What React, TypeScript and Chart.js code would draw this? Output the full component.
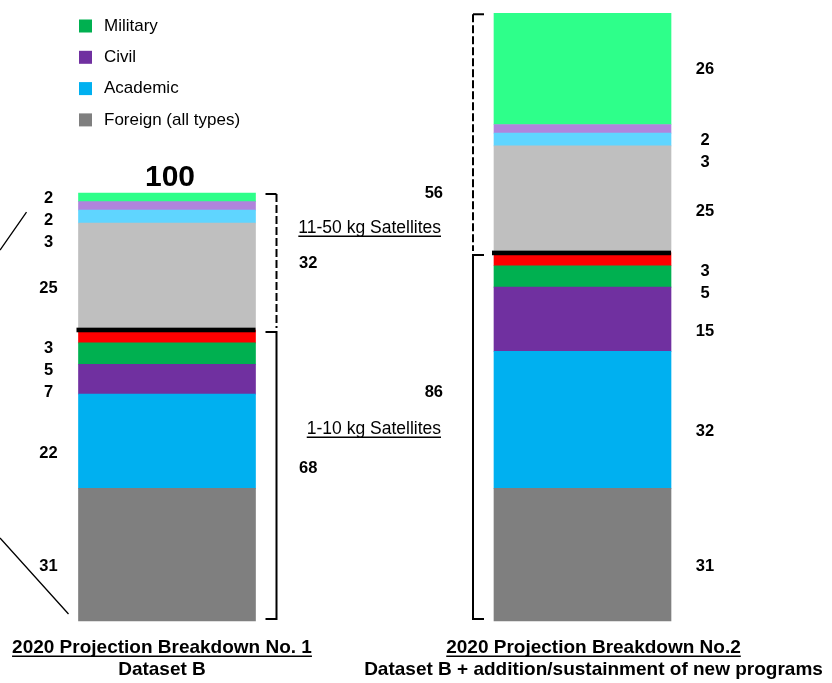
import React, { useEffect, useRef } from "react";
import { Chart, registerables } from "chart.js";

Chart.register(...registerables);

// ---------- data ----------
const categories = ["2020 Projection Breakdown No. 1", "2020 Projection Breakdown No.2"];
const subtitles = ["Dataset B", "Dataset B + addition/sustainment of new programs"];

// 1-10 kg satellites (lower stack, bottom-up)
const foreignSmall = [31, 31];
const academicSmall = [22, 32];
const civilSmall = [7, 15];
const militarySmall = [5, 5];
const otherSmall = [3, 3];
// 11-50 kg satellites (upper stack, bottom-up)
const foreignLarge = [25, 25];
const academicLarge = [3, 3];
const civilLarge = [2, 2];
const militaryLarge = [2, 26];

const legendLabels = ["Military", "Civil", "Academic", "Foreign (all types)"];
const groupLabels = ["1-10 kg Satellites", "11-50 kg Satellites"];

// ---------- styles ----------
const FONT = '"Liberation Sans", Arial, Helvetica, sans-serif';
const COLORS = {
  foreign: "#7F7F7F",
  academic: "#00B0F0",
  civil: "#7030A0",
  military: "#00B050",
  other: "#FF0000",
  foreignL: "#BFBFBF",
  academicL: "#5FD5FF",
  civilL: "#B084DC",
  militaryL: "#2EFF8A",
};
const BAR_W = 177;

const lowerSets = [foreignSmall, academicSmall, civilSmall, militarySmall, otherSmall];
const upperSets = [foreignLarge, academicLarge, civilLarge, militaryLarge];

function txt(
  ctx: CanvasRenderingContext2D,
  text: string,
  x: number,
  y: number,
  size: number,
  bold = false,
  align: CanvasTextAlign = "left",
  underline = false
) {
  ctx.save();
  ctx.font = `${bold ? "bold " : ""}${size}px ${FONT}`;
  ctx.fillStyle = "#000";
  ctx.textAlign = align;
  ctx.textBaseline = "middle";
  ctx.fillText(text, x, y);
  if (underline) {
    const w = ctx.measureText(text).width;
    const x0 = align === "center" ? x - w / 2 : align === "right" ? x - w : x;
    ctx.strokeStyle = "#000";
    ctx.lineWidth = 1.5;
    ctx.beginPath();
    ctx.moveTo(x0, y + size * 0.44);
    ctx.lineTo(x0 + w, y + size * 0.44);
    ctx.stroke();
  }
  ctx.restore();
}

const annotPlugin = {
  id: "annot",
  afterDatasetsDraw(chart: any) {
    const ctx: CanvasRenderingContext2D = chart.ctx;
    const xs = chart.scales.x;
    const ys = chart.scales.y;
    const half = BAR_W / 2;
    const datasets = chart.data.datasets;

    // legend
    const bar0Left = xs.getPixelForValue(0) - half;
    [3, 2, 1, 0].forEach((d, k) => {
      const yc = 26 + k * 31.3;
      ctx.fillStyle = datasets[d].backgroundColor;
      ctx.fillRect(bar0Left + 0.5, yc - 6.5, 13, 13);
      txt(ctx, legendLabels[k], bar0Left + 25.5, yc, 17);
    });

    const bracketInfo: any[] = [];

    categories.forEach((cat, i) => {
      const cx = xs.getPixelForValue(i);
      const left = cx - half;
      const right = cx + half;
      const lower = lowerSets.reduce((a, s) => a + s[i], 0);
      const upper = upperSets.reduce((a, s) => a + s[i], 0);
      const total = lower + upper;
      const yBase = ys.getPixelForValue(0);
      const yMid = ys.getPixelForValue(lower);
      const yTop = ys.getPixelForValue(total);

      // black separator
      ctx.save();
      ctx.fillStyle = "#000";
      ctx.fillRect(left - 2, yMid - 2.3, right - left + 2, 4.6);
      ctx.restore();

      // brackets
      const bx = i === 0 ? right + 21 : left - 21;
      const dir = i === 0 ? -1 : 1;
      const tick = 11;
      ctx.save();
      ctx.strokeStyle = "#000";
      ctx.lineWidth = 2;
      ctx.beginPath();
      ctx.moveTo(bx + dir * tick, yTop + 1);
      ctx.lineTo(bx, yTop + 1);
      ctx.stroke();
      ctx.setLineDash([8, 3]);
      ctx.beginPath();
      ctx.moveTo(bx, yTop + 1);
      ctx.lineTo(bx, yMid - 2);
      ctx.stroke();
      ctx.setLineDash([]);
      ctx.beginPath();
      ctx.moveTo(bx + dir * tick, yMid + 2);
      ctx.lineTo(bx, yMid + 2);
      ctx.lineTo(bx, yBase - 2);
      ctx.lineTo(bx + dir * tick, yBase - 2);
      ctx.stroke();
      ctx.restore();

      bracketInfo.push({ left, right, lower, upper, yTop, yMid, yBase });

      // value labels (top-down)
      const order = [...upperSets].reverse().concat([...lowerSets].reverse());
      let acc = total;
      let prev = -Infinity;
      const lx = i === 0 ? left - 30 : right + 34;
      order.forEach((s, k) => {
        const v = s[i];
        const mid = ys.getPixelForValue(acc - v / 2);
        acc -= v;
        const y = k === 0 ? mid + 1 : Math.max(mid + 12, prev + 22);
        prev = y;
        txt(ctx, String(v), lx, y, 16.5, true, "center");
      });

      // total on top of first bar
      if (i === 0) txt(ctx, String(total), cx + 3, yTop - 15, 30, true, "center");

      // bottom titles
      const shift = i === 0 ? -5 : 11;
      txt(ctx, cat, cx + shift, yBase + 27, 19, true, "center", true);
      txt(ctx, subtitles[i], cx + shift, yBase + 49, 19, true, "center");
    });

    // group annotations between bars
    const b0 = bracketInfo[0];
    const b1 = bracketInfo[1];
    const colL = b0.right + 43.5;
    const colR = b1.left - 51;
    const upMid = (b0.yTop + b0.yMid) / 2;
    const loMid = (b0.yMid + b0.yBase) / 2;
    const upY = upMid - 33;
    const loY = loMid - 46;
    txt(ctx, groupLabels[1], colR - 2, upY, 17.5, false, "right", true);
    txt(ctx, String(b0.upper), colL, upY + 35, 16.5, true, "left");
    txt(ctx, String(b1.upper), colR, upY - 35, 16.5, true, "right");
    txt(ctx, groupLabels[0], colR - 2, loY, 17.5, false, "right", true);
    txt(ctx, String(b0.lower), colL, loY + 39, 16.5, true, "left");
    txt(ctx, String(b1.lower), colR, loY - 37, 16.5, true, "right");

    // callout lines on the left edge
    ctx.save();
    ctx.strokeStyle = "#000";
    ctx.lineWidth = 1.3;
    ctx.beginPath();
    ctx.moveTo(0, b0.yTop + 57);
    ctx.lineTo(b0.left - 52, b0.yTop + 19);
    ctx.moveTo(0, b0.yBase - 83);
    ctx.lineTo(b0.left - 10, b0.yBase - 7);
    ctx.stroke();
    ctx.restore();
  },
};

export default function App() {
  const ref = useRef<HTMLCanvasElement>(null);
  useEffect(() => {
    const canvas = ref.current!;
    const ds = (label: string, data: number[], color: string) => ({
      label,
      data,
      backgroundColor: color,
      borderWidth: 0,
      barThickness: BAR_W,
      clip: false as any,
    });
    const chart = new Chart(canvas, {
      type: "bar",
      data: {
        labels: categories,
        datasets: [
          ds("Foreign (all types)", foreignSmall, COLORS.foreign),
          ds("Academic", academicSmall, COLORS.academic),
          ds("Civil", civilSmall, COLORS.civil),
          ds("Military", militarySmall, COLORS.military),
          ds("Other", otherSmall, COLORS.other),
          ds("Foreign 11-50 kg", foreignLarge, COLORS.foreignL),
          ds("Academic 11-50 kg", academicLarge, COLORS.academicL),
          ds("Civil 11-50 kg", civilLarge, COLORS.civilL),
          ds("Military 11-50 kg", militaryLarge, COLORS.militaryL),
        ],
      },
      options: {
        responsive: false,
        animation: false,
        devicePixelRatio: 1,
        layout: { padding: { left: 167, right: 249.5, top: 0, bottom: 62 } },
        plugins: { legend: { display: false }, tooltip: { enabled: false } },
        scales: {
          x: { type: "category", stacked: true, offset: false, display: false },
          y: { stacked: true, min: 0, max: 145.1, display: false },
        },
      },
      plugins: [annotPlugin],
    });
    return () => chart.destroy();
  }, []);
  return (
    <div style={{ position: "absolute", left: 0, top: 0, width: 832, height: 683, background: "#fff" }}>
      <canvas ref={ref} width={832} height={683} style={{ display: "block", width: 832, height: 683 }} />
    </div>
  );
}
